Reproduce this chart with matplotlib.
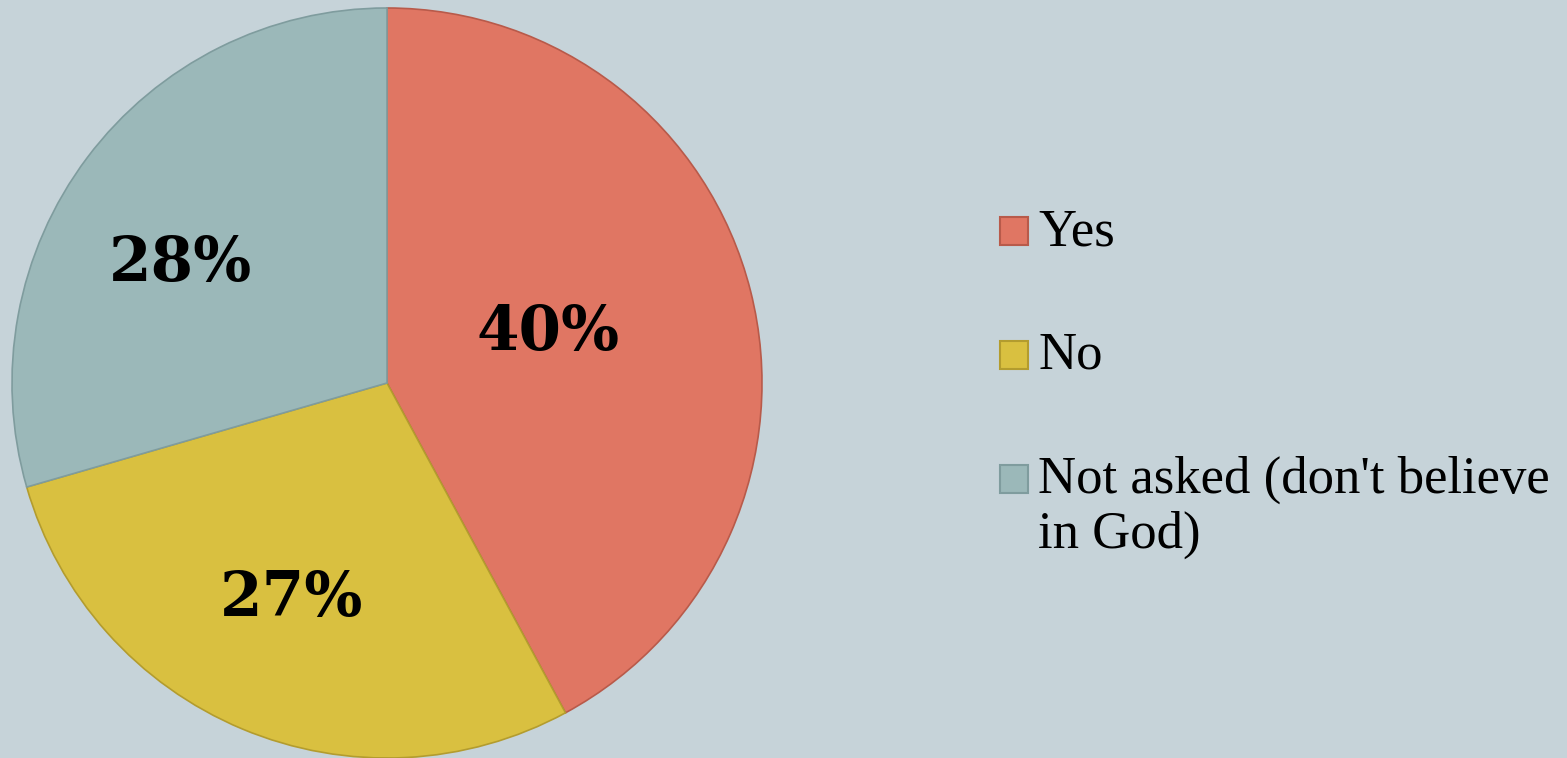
import numpy as np
import matplotlib.pyplot as plt
from matplotlib.patches import Rectangle

categories = ['Yes', 'No', "Not asked (don't believe\nin God)"]
values = [40, 27, 28]
pct_labels = ['40%', '27%', '28%']
colors = ['#E07663', '#D9C040', '#9BB8B9']
edges = ['#B85A4A', '#B39C2E', '#7F9C9E']
label_r = [0.45, 0.63, 0.635]
label_dang = [3, -1, 7]

W, H = 1567, 758
bg = '#C6D3D9'
fig = plt.figure(figsize=(W / 100, H / 100), dpi=100, facecolor=bg)

# pie centre at (387, 383) px, radius 375 px
ax = fig.add_axes([12 / W, 0.0, 750 / W, 750 / H])
ax.set_facecolor(bg)
wedges, _ = ax.pie(values, colors=colors, startangle=90, counterclock=False,
                   wedgeprops=dict(linewidth=1.2))
for w, ec in zip(wedges, edges):
    w.set_edgecolor(ec)
ax.set_xlim(-1, 1)
ax.set_ylim(-1, 1)
ax.axis('off')

for w, lab, r, da in zip(wedges, pct_labels, label_r, label_dang):
    mid = np.deg2rad((w.theta1 + w.theta2) / 2 + da)
    ax.text(r * np.cos(mid), r * np.sin(mid), lab, ha='center', va='center',
            fontsize=44, fontweight='heavy', family='DejaVu Serif', color='black')

# legend drawn by hand so the marker sits on the first text line
baselines = [245, 369, 493]
line_step = 55
for cat, col, ec, base in zip(categories, colors, edges, baselines):
    fig.patches.append(Rectangle((1000 / W, 1 - base / H), 28 / W, 28 / H,
                                 transform=fig.transFigure, facecolor=col,
                                 edgecolor=ec, linewidth=1.5))
    for i, line in enumerate(cat.split('\n')):
        y = base + i * line_step
        fig.text(1038 / W, 1 - y / H, line, ha='left', va='baseline',
                 fontsize=38, family='Liberation Serif', color='black')

fig.savefig('out.png', dpi=100, facecolor=bg)
